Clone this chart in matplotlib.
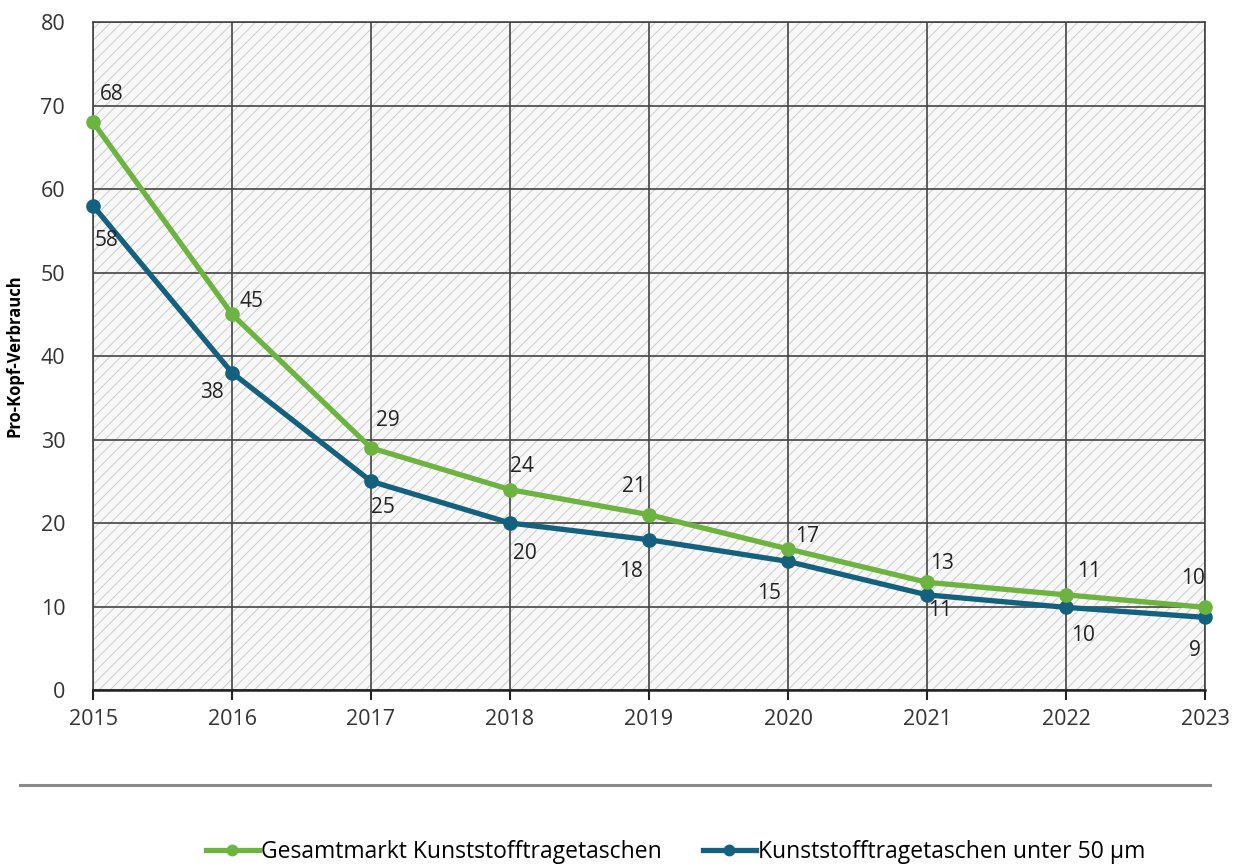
import matplotlib.pyplot as plt
from matplotlib.patches import Rectangle
from matplotlib.lines import Line2D

plt.rcParams['font.family'] = ['Open Sans', 'DejaVu Sans']
plt.rcParams['hatch.linewidth'] = 0.7

years = [2015, 2016, 2017, 2018, 2019, 2020, 2021, 2022, 2023]
total = [68, 45, 29, 24, 21, 16.9, 12.9, 11.4, 9.9]
under50 = [58, 38, 25, 20, 18, 15.4, 11.4, 9.9, 8.7]
total_labels = ['68', '45', '29', '24', '21', '17', '13', '11', '10']
under50_labels = ['58', '38', '25', '20', '18', '15', '11', '10', '9']
name_total = 'Gesamtmarkt Kunststofftragetaschen'
name_under50 = 'Kunststofftragetaschen unter 50 µm'

green = '#6cb33f'
blue = '#14607f'

# label offsets in pixels (dx, dy), matched to the picture
off_total = [(19, 28), (19, 13), (17, 27), (12, 23), (-15, 28), (19, 12), (15, 19), (23, 23), (-12, 29)]
off_under50 = [(14, -35), (-20, -20), (12, -26), (15, -30), (-18, -32), (-19, -32), (13, -16), (17, -28), (-10, -33)]

fig = plt.figure(figsize=(12.42, 8.66), dpi=100)
ax = fig.add_axes([0.0749, 0.2032, 0.8953, 0.7714])

ax.set_xlim(2015, 2023)
ax.set_ylim(0, 80)
ax.set_facecolor('white')
bg = Rectangle((0, 0), 1, 1, transform=ax.transAxes, facecolor='#f7f7f7',
               edgecolor='#cccccc', hatch='///', lw=0, zorder=0)
ax.add_patch(bg)

ax.set_xticks(years)
ax.set_yticks(range(0, 81, 10))
ax.grid(True, color='#444444', lw=1.2, zorder=1)
for s in ['top', 'right', 'left']:
    ax.spines[s].set_color('#444444')
    ax.spines[s].set_linewidth(1.2)
ax.spines['bottom'].set_color('#222222')
ax.spines['bottom'].set_linewidth(1.8)
ax.tick_params(axis='x', direction='out', length=7, width=1.5, color='#222222',
               labelsize=15.5, labelcolor='#333333', pad=7)
ax.tick_params(axis='y', length=0, labelsize=15.5, labelcolor='#333333', pad=20)
ax.set_ylabel('Pro-Kopf-Verbrauch', fontsize=12, fontweight='bold', labelpad=12)

ax.plot(years, total, color=green, lw=3.8, marker='o', ms=9.5, zorder=4, clip_on=False)
ax.plot(years, under50, color=blue, lw=3.8, marker='o', ms=9.5, zorder=3, clip_on=False)

for x, y, t, o in zip(years, total, total_labels, off_total):
    ax.annotate(t, (x, y), xytext=o, textcoords='offset pixels', ha='center', va='center',
                fontsize=15, color='#222222', zorder=5, annotation_clip=False)
for x, y, t, o in zip(years, under50, under50_labels, off_under50):
    ax.annotate(t, (x, y), xytext=o, textcoords='offset pixels', ha='center', va='center',
                fontsize=15, color='#222222', zorder=5, annotation_clip=False)

# separator line below the chart
fig.add_artist(Line2D([0.016, 0.974], [0.0935, 0.0935], color='#8a8a8a', lw=2.2))

handles = [Line2D([], [], color=green, lw=3.8, marker='o', ms=7.5),
           Line2D([], [], color=blue, lw=3.8, marker='o', ms=7.5)]
fig.legend(handles, [name_total, name_under50], loc='center', bbox_to_anchor=(0.544, 0.016),
           ncol=2, frameon=False, fontsize=16.5, handlelength=2.3, handletextpad=0.1,
           columnspacing=1.8)

fig.savefig('out.png', dpi=100)
